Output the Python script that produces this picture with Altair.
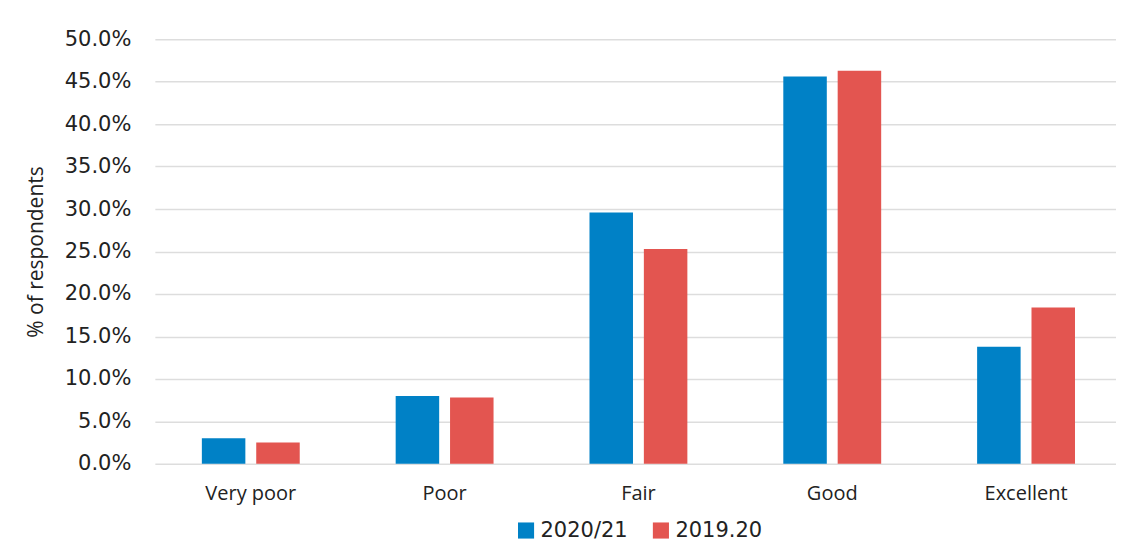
import altair as alt
import pandas as pd

categories = ["Very poor", "Poor", "Fair", "Good", "Excellent"]
series = ["2020/21", "2019.20"]
values_2021 = [3.0, 8.0, 29.6, 45.6, 13.8]
values_2019 = [2.5, 7.8, 25.3, 46.3, 18.4]

rows = []
for c, a, b in zip(categories, values_2021, values_2019):
    rows.append({"category": c, "year": series[0], "value": a / 100})
    rows.append({"category": c, "year": series[1], "value": b / 100})
df = pd.DataFrame(rows)

FONT = "Open Sans"
NUMFONT = "DejaVu Sans"
TXT = "#222222"

chart = alt.Chart(df).mark_bar().encode(
    x=alt.X("category:N", sort=categories, title=None,
            scale=alt.Scale(paddingInner=0.495, paddingOuter=0.227, align=0.534),
            axis=alt.Axis(labelAngle=0, ticks=False, domain=False, grid=False,
                          labelFontSize=20, labelPadding=20, labelColor=TXT,
                          labelFont=FONT)),
    xOffset=alt.XOffset("year:N", sort=series, scale=alt.Scale(paddingInner=0.2)),
    y=alt.Y("value:Q", title="% of respondents",
            scale=alt.Scale(domain=[0, 0.5], nice=False),
            axis=alt.Axis(format=".1%", values=[i * 0.05 for i in range(11)],
                          ticks=False, domain=False, labelFontSize=21,
                          labelPadding=24, labelColor=TXT, labelFont=NUMFONT,
                          titleFontSize=21, titleFontWeight="normal",
                          titleColor=TXT, titleFont=FONT, titlePadding=18,
                          gridColor="#dddddd", gridWidth=1.5)),
    color=alt.Color("year:N", sort=series, title=None,
                    scale=alt.Scale(domain=series, range=["#0081c6", "#e35550"]),
                    legend=alt.Legend(orient="none", legendX=361, legendY=481,
                                      direction="horizontal",
                                      symbolType="square", symbolSize=260,
                                      symbolStrokeWidth=0, labelFontSize=21,
                                      labelFont=NUMFONT, labelColor=TXT,
                                      columnPadding=22)),
).properties(
    width=962, height=425, background="white",
    padding={"top": 20, "left": 17, "right": 0, "bottom": 0}
).configure_view(stroke=None)

chart.save("out.html", embed_options={"renderer": "svg", "actions": False})
